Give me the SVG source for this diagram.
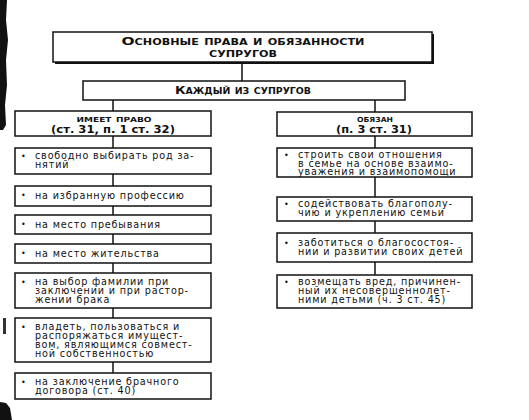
<svg xmlns="http://www.w3.org/2000/svg" width="529" height="420" viewBox="0 0 529 420">
<style>
.box{fill:#fff;stroke:#111;stroke-width:1.5}
.con{stroke:#111;stroke-width:1.5;fill:none}
.hd{font-family:"DejaVu Sans","Liberation Sans",sans-serif;font-weight:bold;fill:#111;text-anchor:middle}
.sc{font-variant:small-caps}
.tx{font-family:"DejaVu Sans","Liberation Sans",sans-serif;font-size:9.6px;letter-spacing:0.85px;fill:#111}
.bl{font-family:"DejaVu Sans",sans-serif;font-size:8px;fill:#111}
</style>
<rect width="529" height="420" fill="#fff"/>
<g id="artifacts" fill="#111">
<path d="M0 0 H7 L6 20 L8 40 L6 60 L7 85 L5 105 L6 125 L3 130 H0 Z"/>
<rect x="3" y="318" width="3" height="16" fill="#333"/>
<path d="M0 402 L6 403 L10 408 L12 420 H0 Z"/>
</g>
<g id="connectors">
<line class="con" x1="242" y1="62" x2="242" y2="81"/>
<line class="con" x1="113" y1="100" x2="113" y2="111"/>
<line class="con" x1="375" y1="100" x2="375" y2="112"/>
<line class="con" x1="113" y1="136" x2="113" y2="373"/>
<line class="con" x1="375" y1="136" x2="375" y2="275"/>
</g>
<g id="title">
<rect x="55" y="34" width="379" height="30" fill="#111"/>
<rect class="box" x="53" y="32" width="379" height="30"/>
<text class="hd sc" x="243" y="45" font-size="11" textLength="243" lengthAdjust="spacingAndGlyphs">Основные права и обязанности</text>
<text class="hd sc" x="243" y="57" font-size="11" textLength="68" lengthAdjust="spacingAndGlyphs">супругов</text>
</g>
<g id="each">
<rect class="box" x="83" y="81" width="322" height="19"/>
<text class="hd sc" x="243" y="94" font-size="11" textLength="136" lengthAdjust="spacingAndGlyphs">Каждый из супругов</text>
</g>
<g id="has-right">
<rect class="box" x="15" y="111" width="196" height="25"/>
<text class="hd sc" x="114" y="122" font-size="10" textLength="75" lengthAdjust="spacingAndGlyphs">имеет право</text>
<text class="hd" x="113" y="133" font-size="11" textLength="124" lengthAdjust="spacingAndGlyphs">(ст. 31, п. 1 ст. 32)</text>
</g>
<g id="obliged">
<rect class="box" x="277" y="112" width="195" height="24"/>
<text class="hd sc" x="375" y="122" font-size="10" textLength="36" lengthAdjust="spacingAndGlyphs">обязан</text>
<text class="hd" x="374" y="133" font-size="11" textLength="76" lengthAdjust="spacingAndGlyphs">(п. 3 ст. 31)</text>
</g>
<g id="l1">
<rect class="box" x="15" y="148" width="196" height="26"/>
<text class="bl" x="21" y="159">•</text>
<text class="tx" x="35" y="159">свободно выбирать род за-</text>
<text class="tx" x="35" y="168">нятий</text>
</g>
<g id="l2">
<rect class="box" x="15" y="186" width="196" height="20"/>
<text class="bl" x="21" y="198">•</text>
<text class="tx" x="35" y="198.5">на избранную профессию</text>
</g>
<g id="l3">
<rect class="box" x="15" y="215" width="196" height="19"/>
<text class="bl" x="21" y="227">•</text>
<text class="tx" x="35" y="227.5">на место пребывания</text>
</g>
<g id="l4">
<rect class="box" x="15" y="244" width="196" height="19"/>
<text class="bl" x="21" y="256">•</text>
<text class="tx" x="35" y="256.5">на место жительства</text>
</g>
<g id="l5">
<rect class="box" x="15" y="273" width="196" height="35"/>
<text class="bl" x="21" y="284.5">•</text>
<text class="tx" x="35" y="284.5">на выбор фамилии при</text>
<text class="tx" x="35" y="293.5">заключении и при растор-</text>
<text class="tx" x="35" y="302.5">жении брака</text>
</g>
<g id="l6">
<rect class="box" x="15" y="318" width="196" height="44"/>
<text class="bl" x="21" y="330">•</text>
<text class="tx" x="35" y="330">владеть, пользоваться и</text>
<text class="tx" x="35" y="339">распоряжаться имущест-</text>
<text class="tx" x="35" y="348">вом, являющимся совмест-</text>
<text class="tx" x="35" y="357">ной собственностью</text>
</g>
<g id="l7">
<rect class="box" x="15" y="373" width="196" height="26"/>
<text class="bl" x="21" y="384.5">•</text>
<text class="tx" x="35" y="384.5">на заключение брачного</text>
<text class="tx" x="35" y="393.5">договора (ст. 40)</text>
</g>
<g id="r1">
<rect class="box" x="277" y="148" width="195" height="29"/>
<text class="bl" x="284" y="158">•</text>
<text class="tx" x="298" y="158">строить свои отношения</text>
<text class="tx" x="298" y="166.5">в семье на основе взаимо-</text>
<text class="tx" x="298" y="175">уважения и взаимопомощи</text>
</g>
<g id="r2">
<rect class="box" x="277" y="197" width="195" height="24"/>
<text class="bl" x="284" y="206.5">•</text>
<text class="tx" x="298" y="206.5">содействовать благополу-</text>
<text class="tx" x="298" y="215.5">чию и укреплению семьи</text>
</g>
<g id="r3">
<rect class="box" x="277" y="233" width="195" height="29"/>
<text class="bl" x="284" y="246">•</text>
<text class="tx" x="298" y="246">заботиться о благосостоя-</text>
<text class="tx" x="298" y="255">нии и развитии своих детей</text>
</g>
<g id="r4">
<rect class="box" x="277" y="275" width="195" height="33"/>
<text class="bl" x="284" y="285">•</text>
<text class="tx" x="298" y="285">возмещать вред, причинен-</text>
<text class="tx" x="298" y="294">ный их несовершеннолет-</text>
<text class="tx" x="298" y="303">ними детьми (ч. 3 ст. 45)</text>
</g>
</svg>
